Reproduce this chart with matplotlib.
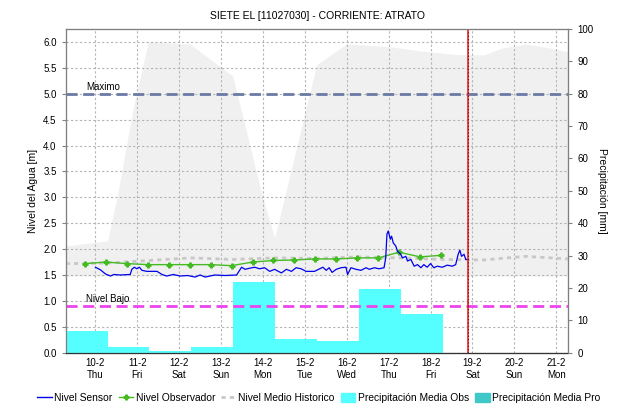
import matplotlib
matplotlib.use("Agg")
from matplotlib import pyplot as plt
from matplotlib.patches import Patch
from matplotlib.lines import Line2D

plt.rcParams['font.family'] = ['Liberation Sans', 'DejaVu Sans']

# tiempos en dias desde 9-2 00:00
dias_ticks = [1, 2, 3, 4, 5, 6, 7, 8, 9, 10, 11, 12]
etiquetas = ["10-2\nThu", "11-2\nFri", "12-2\nSat", "13-2\nSun", "14-2\nMon", "15-2\nTue",
             "16-2\nWed", "17-2\nThu", "18-2\nFri", "19-2\nSat", "20-2\nSun", "21-2\nMon"]

# nivel sensor [m]
t_sensor = [1.00, 1.12, 1.24, 1.36, 1.44, 1.59, 1.83, 1.87, 1.93, 1.99, 2.05, 2.11, 2.23, 2.47,
            2.59, 2.70, 2.86, 3.02, 3.20, 3.38, 3.50, 3.62, 3.85, 4.10, 4.37, 4.49, 4.57, 4.68,
            4.80, 4.92, 5.04, 5.16, 5.28, 5.32, 5.44, 5.56, 5.68, 5.79, 5.91, 6.03, 6.23, 6.43,
            6.51, 6.58, 6.65, 6.75, 6.86, 6.98, 7.02, 7.10, 7.22, 7.34, 7.46, 7.54, 7.66, 7.77,
            7.89, 7.93, 7.96, 7.99, 8.04, 8.07, 8.11, 8.17, 8.21, 8.29, 8.33, 8.41, 8.45, 8.53,
            8.61, 8.69, 8.77, 8.84, 8.92, 9.00, 9.08, 9.16, 9.28, 9.40, 9.52, 9.60, 9.66, 9.70,
            9.74, 9.80, 9.84, 9.89]
nivel_sensor = [1.65, 1.60, 1.52, 1.48, 1.51, 1.50, 1.51, 1.61, 1.65, 1.62, 1.65, 1.59, 1.57, 1.57,
                1.51, 1.48, 1.51, 1.48, 1.49, 1.46, 1.50, 1.46, 1.50, 1.49, 1.50, 1.65, 1.61, 1.63,
                1.65, 1.62, 1.64, 1.57, 1.61, 1.59, 1.54, 1.61, 1.57, 1.64, 1.62, 1.57, 1.57, 1.65,
                1.59, 1.64, 1.55, 1.61, 1.64, 1.65, 1.51, 1.64, 1.61, 1.59, 1.64, 1.61, 1.64, 1.62,
                1.64, 1.83, 2.29, 2.35, 2.19, 2.25, 2.12, 2.06, 1.96, 1.90, 1.83, 1.86, 1.77, 1.80,
                1.67, 1.70, 1.64, 1.70, 1.65, 1.72, 1.64, 1.67, 1.65, 1.69, 1.67, 1.70, 1.90, 1.98,
                1.86, 1.90, 1.80, 1.80]

# nivel observador [m]
t_obs = [0.75, 1.25, 1.75, 2.25, 2.75, 3.25, 3.75, 4.25, 4.75, 5.25, 5.75, 6.25, 6.75, 7.25,
         7.75, 8.25, 8.75, 9.25]
nivel_obs = [1.72, 1.75, 1.72, 1.70, 1.70, 1.70, 1.70, 1.68, 1.75, 1.78, 1.79, 1.81, 1.81, 1.83,
             1.83, 1.94, 1.85, 1.88]

# banda historica [m]
t_hist = [0.29, 1.29, 1.52, 1.90, 2.26, 3.26, 4.28, 4.99, 5.28, 6.28, 6.99, 8.01, 8.73, 9.56,
          10.27, 10.70, 11.27, 11.74, 12.29]
hist_max = [2.06, 2.16, 3.02, 4.71, 6.00, 5.96, 5.34, 3.00, 2.22, 5.56, 5.96, 5.91, 5.83, 5.76,
            5.75, 5.88, 5.96, 5.90, 5.81]
hist_min = [1.48, 1.48, 1.48, 1.48, 1.48, 1.48, 1.48, 1.48, 1.48, 1.48, 1.48, 1.48, 1.48, 1.48,
            1.48, 1.48, 1.48, 1.48, 1.48]

# nivel medio historico [m]
t_medio = [0.29, 1.29, 2.28, 3.28, 4.28, 5.28, 6.28, 7.28, 8.27, 9.27, 10.27, 11.27, 12.29]
nivel_medio = [1.72, 1.73, 1.78, 1.83, 1.80, 1.83, 1.82, 1.85, 1.83, 1.80, 1.79, 1.86, 1.81]

# precipitacion diaria (7am a 7am) [mm]
t_precip = [0.29, 1.29, 2.29, 3.29, 4.29, 5.29, 6.29, 7.29, 8.29]
precip_obs = [6.8, 1.9, 0.5, 1.9, 21.8, 4.3, 3.7, 19.6, 11.8]

nivel_maximo = 5.0
nivel_bajo = 0.91
ahora = 9.9

fig = plt.figure(figsize=(6.28, 4.12), dpi=100)
ax = fig.add_axes([0.1046, 0.144, 0.8004, 0.7856])
ax2 = ax.twinx()   # precipitacion
ax3 = ax.twinx()   # niveles encima de las barras

ax.set_xlim(0.29, 12.29)
ax.set_ylim(0, 6.25)
ax3.set_ylim(0, 6.25)
ax2.set_ylim(0, 100)

ax.fill_between(t_hist, hist_min, hist_max, color="#f0f0f0", lw=0, zorder=0)
ax.grid(True, color="#b4b4b4", linestyle=(0, (2, 2)), linewidth=0.8)
ax.set_yticks([0, 0.5, 1, 1.5, 2, 2.5, 3, 3.5, 4, 4.5, 5, 5.5, 6])
ax.set_yticklabels(["0.0", "0.5", "1.0", "1.5", "2.0", "2.5", "3.0", "3.5", "4.0", "4.5",
                    "5.0", "5.5", "6.0"])
ax.set_xticks(dias_ticks)
ax.set_xticklabels(etiquetas)
ax.tick_params(axis="both", labelsize=7, length=3, color="#808080")
ax.tick_params(axis="x", length=0, pad=4)
ax.set_ylabel("Nivel del Agua [m]", fontsize=7.5)

ax2.bar(t_precip, precip_obs, width=1.0, align="edge", color="#55ffff", lw=0)
ax2.set_yticks([0, 10, 20, 30, 40, 50, 60, 70, 80, 90, 100])
ax2.tick_params(axis="y", labelsize=7, length=3, color="#808080")
ax2.set_ylabel("Precipitación [mm]", fontsize=7.5, rotation=270, labelpad=10)

ax3.set_yticks([])
ax3.plot(t_medio, nivel_medio, color="#c8c8c8", lw=2, linestyle=(0, (1.5, 1.5)))
ax3.axhline(nivel_maximo, color="#6a7aa5", lw=2, linestyle=(0, (4, 2)))
ax3.axhline(nivel_bajo, color="#ee44ee", lw=2, linestyle=(0, (4, 2)))
ax3.text(0.78, nivel_maximo + 0.03, "Maximo", fontsize=7, va="bottom")
ax3.text(0.78, nivel_bajo + 0.03, "Nivel Bajo", fontsize=7, va="bottom")
ax3.plot(t_obs, nivel_obs, color="#44bb22", lw=1.0, marker="P", markersize=3.5)
ax3.plot(t_sensor, nivel_sensor, color="#0000ee", lw=0.9)
ax3.axvline(ahora, color="#ee2222", lw=1.2)
ax3.axvline(ahora, color="#661111", lw=0.8, linestyle=(0, (1, 2)))

for a in (ax, ax2, ax3):
    for s in ("left", "right", "top"):
        a.spines[s].set_color("#808080")
    a.spines["bottom"].set_color("#333333")
    a.spines["bottom"].set_linestyle((0, (1, 1)))

fig.text(0.506, 0.962, "SIETE EL [11027030] - CORRIENTE: ATRATO", ha="center", va="center",
         fontsize=7.5)

handles = [Line2D([], [], color="#0000ee", lw=1),
           Line2D([], [], color="#44bb22", lw=1.0, marker="P", markersize=3.5),
           Line2D([], [], color="#c8c8c8", lw=2, linestyle=(0, (1.5, 1.5))),
           Patch(color="#55ffff"),
           Patch(color="#40c8c8")]
labels = ["Nivel Sensor", "Nivel Observador", "Nivel Medio Historico",
          "Precipitación Media Obs", "Precipitación Media Pro"]
fig.legend(handles, labels, loc="center", bbox_to_anchor=(0.508, 0.035), ncol=5, frameon=False,
           fontsize=7.4, handlelength=1.4, handletextpad=0.25, columnspacing=0.6,
           handleheight=1.0)

fig.savefig("out.png", dpi=100)
